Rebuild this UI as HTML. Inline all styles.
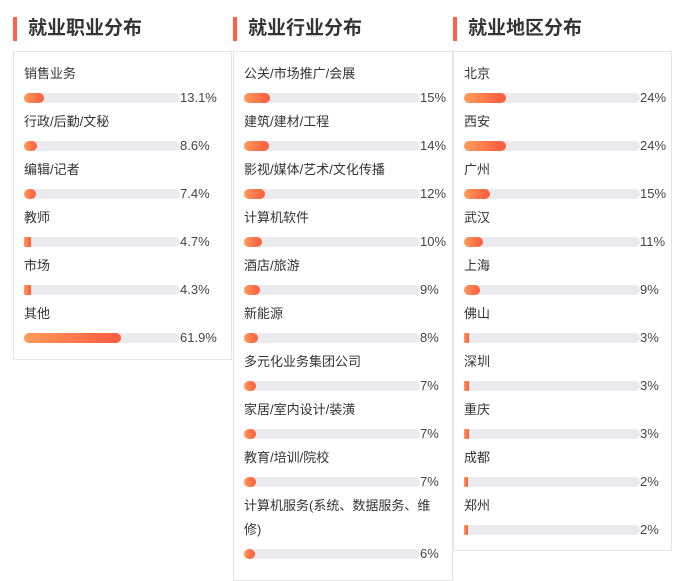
<!DOCTYPE html>
<html><head><meta charset="utf-8"><style>
body{margin:0;width:674px;height:574px;background:#fff;position:relative;overflow:hidden;font-family:"Liberation Sans","Noto Sans CJK SC",sans-serif;}
.t{position:absolute;top:16px;height:26px;}
.t .m{position:absolute;left:0;top:1px;width:4px;height:24px;background:#ff5f45;}
.t .s{position:absolute;left:15px;top:0;font-size:19px;font-weight:bold;color:#333;line-height:26px;white-space:nowrap;}
.box{position:absolute;border:1px solid #e4e4e4;box-sizing:border-box;}
.lb{position:absolute;font-size:13px;color:#333;line-height:24px;white-space:nowrap;}
.tr{position:absolute;height:10px;border-radius:5px;background:#eaeaef;}
.fl{position:absolute;left:0;top:0;height:10px;border-radius:5px;background:linear-gradient(90deg,#ff9a5a,#ff5a3c);}
.v{position:absolute;font-size:13px;color:#444;line-height:14px;}
</style></head><body>
<script>
const titles=["就业职业分布","就业行业分布","就业地区分布"];
const cats1=["销售业务","行政/后勤/文秘","编辑/记者","教师","市场","其他"];
const vals1=[13.1,8.6,7.4,4.7,4.3,61.9];
const labels1=["13.1%","8.6%","7.4%","4.7%","4.3%","61.9%"];
const cats2=["公关/市场推广/会展","建筑/建材/工程","影视/媒体/艺术/文化传播","计算机软件","酒店/旅游","新能源","多元化业务集团公司","家居/室内设计/装潢","教育/培训/院校","计算机服务(系统、数据服务、维|修)"];
const vals2=[15,14,12,10,9,8,7,7,7,6];
const labels2=["15%","14%","12%","10%","9%","8%","7%","7%","7%","6%"];
const cats3=["北京","西安","广州","武汉","上海","佛山","深圳","重庆","成都","郑州"];
const vals3=[24,24,15,11,9,3,3,3,2,2];
const labels3=["24%","24%","15%","11%","9%","3%","3%","3%","2%","2%"];
const panels=[
 {x:13,w:219,h:309,track:156,cats:cats1,vals:vals1,labels:labels1,name:"occupation"},
 {x:233,w:220,h:530,track:176,cats:cats2,vals:vals2,labels:labels2,name:"industry"},
 {x:453,w:219,h:500,track:176,cats:cats3,vals:vals3,labels:labels3,name:"region"}];
panels.forEach((p,pi)=>{
 const t=document.createElement('div');t.className='t';t.style.left=p.x+'px';
 
 
 t.innerHTML='<div class="m"></div><div class="s">'+titles[pi]+'</div>';
 document.body.appendChild(t);
 const b=document.createElement('div');b.className='box';
 b.style.cssText=`left:${p.x}px;top:51px;width:${p.w}px;height:${p.h}px`;
 
 
 document.body.appendChild(b);
 let y=62;
 p.cats.forEach((c,i)=>{
  const lines=c.split('|');
  const l=document.createElement('div');l.className='lb';
  l.style.cssText=`left:${p.x+11}px;top:${y}px`;
  l.innerHTML=lines.join('<br>');
  
  
  document.body.appendChild(l);
  y+=24*lines.length;
  const tr=document.createElement('div');tr.className='tr';
  tr.style.cssText=`left:${p.x+11}px;top:${y+7}px;width:${p.track}px`;
  
  
  const f=document.createElement('div');f.className='fl';
  const w=p.track*p.vals[i]/100;
  f.style.width=w+'px';
  if(w<10){f.style.borderRadius='1px';}
  
  
  tr.appendChild(f);
  document.body.appendChild(tr);
  const v=document.createElement('div');v.className='v';
  v.style.cssText=`left:${p.x+11+p.track}px;top:${y+5}px;width:${p.w-22-p.track+10}px`;
  v.textContent=p.labels[i];
  
  
  document.body.appendChild(v);
  y+=24;
 });
});
</script>
</body></html>
